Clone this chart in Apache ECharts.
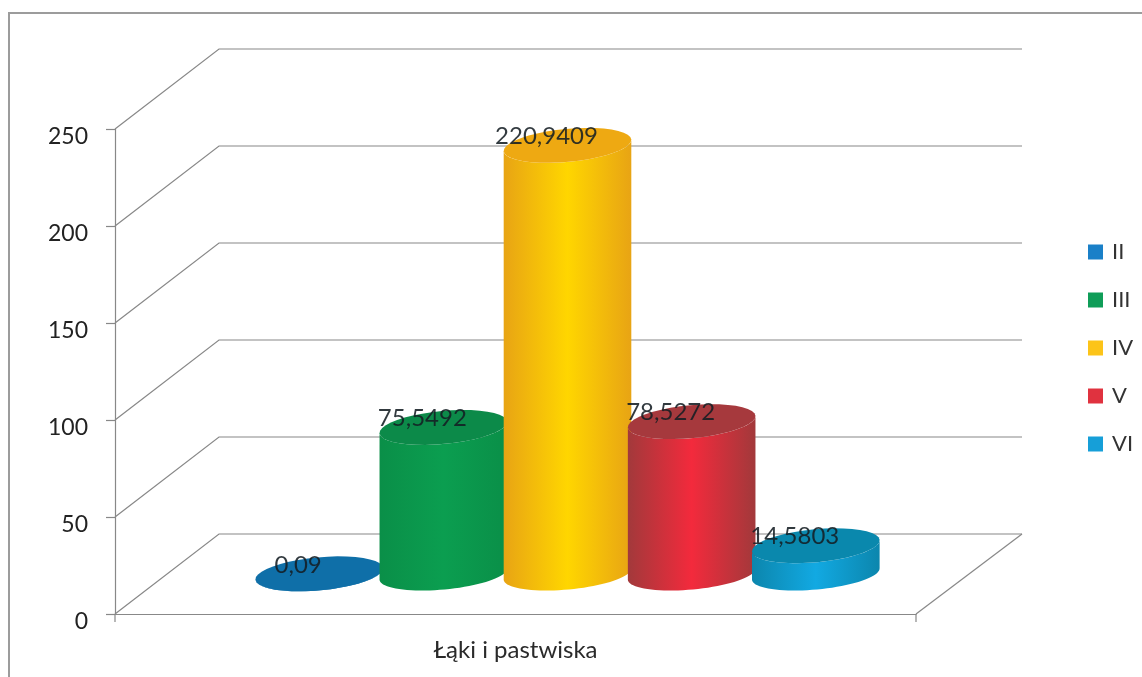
<!DOCTYPE html>
<html lang="pl">
<head>
<meta charset="utf-8">
<script src="https://cdn.jsdelivr.net/npm/echarts@6/dist/echarts.min.js"></script>
<style>
  html, body { margin: 0; padding: 0; background: #fff; }
  #chart { width: 1142px; height: 677px; }
</style>
</head>
<body>
<div id="chart"></div>
<script>
const categories = ['Łąki i pastwiska']
const seriesNames = ['II', 'III', 'IV', 'V', 'VI']
const seriesValues = [0.09, 75.5492, 220.9409, 78.5272, 14.5803]
const gridValues = [0, 50, 100, 150, 200, 250]

const legendColors = ['#1a80c8', '#0f9d58', '#fcc419', '#e0323f', '#169fd8']
const capColors = ['#0f6fa8', '#0c8a49', '#eea912', '#a6393d', '#0a88ad']
const sideEdge = ['#0f6fa8', '#0a8f48', '#e8a414', '#a2393b', '#0c86ad']
const sideMid = ['#0f6fa8', '#0b9e50', '#ffd600', '#f32a3c', '#12a9e2']

const font = 'Lato, "Noto Sans", sans-serif'
const lineColor = '#888'
const depthX = 104
const depthY = 80
const tilt = -5.3 * Math.PI / 180

function arc(cx, cy, rx, ry, from, to) {
  const pts = []
  for (let i = 0; i <= 40; i++) {
    const t = from + (to - from) * i / 40
    pts.push([
      cx + rx * Math.cos(t) * Math.cos(tilt) - ry * Math.sin(t) * Math.sin(tilt),
      cy + rx * Math.cos(t) * Math.sin(tilt) + ry * Math.sin(t) * Math.cos(tilt)
    ])
  }
  return pts
}

function cylinder(index) {
  return function (params, api) {
    const band = api.size([1, 0])[0]
    const rx = band * 0.08
    const ry = 15.5
    const base = api.coord([api.value(0), 0])
    const top = api.coord([api.value(0), api.value(1)])
    const cx = base[0] + depthX / 2 + (index - 2) * band * 0.155
    const by = base[1] - depthY / 2
    const ty = top[1] - depthY / 2
    const side = arc(cx, by, rx, ry, 0, Math.PI).concat(arc(cx, ty, rx, ry + 1, Math.PI, 0))
    const children = [{
      type: 'polygon',
      z2: index * 2,
      shape: { points: side },
      style: {
        fill: new echarts.graphic.LinearGradient(0, 0, 1, 0, [
          { offset: 0, color: sideEdge[index] },
          { offset: 0.5, color: sideMid[index] },
          { offset: 1, color: sideEdge[index] }
        ])
      }
    }, {
      type: 'polygon',
      z2: index * 2 + 1,
      shape: { points: arc(cx, ty, rx, ry + 1, 0, Math.PI * 2) },
      style: { fill: capColors[index] }
    }, {
      type: 'text',
      z2: 100,
      style: {
        text: String(api.value(1)).replace('.', ','),
        x: cx - 21,
        y: ty - 9,
        fill: 'rgba(20,30,35,0.88)',
        font: '24px ' + font,
        textAlign: 'center',
        textVerticalAlign: 'middle'
      }
    }]
    return { type: 'group', children: children }
  }
}

function wallLine(params, api) {
  const front = api.coord([0, api.value(0)])
  const size = api.size([1, 0])[0]
  const x0 = front[0] - size / 2
  const y0 = front[1]
  const stroke = { stroke: lineColor, lineWidth: 1.2, fill: null }
  const children = [{
    type: 'polyline',
    shape: { points: [[x0, y0], [x0 + depthX, y0 - depthY], [x0 + size + depthX + 2, y0 - depthY]] },
    style: stroke
  }]
  if (api.value(0) === 0) {
    children.push({
      type: 'line',
      shape: { x1: x0 + size, y1: y0, x2: x0 + size + depthX + 2, y2: y0 - depthY },
      style: stroke
    }, {
      type: 'line',
      shape: { x1: x0, y1: y0, x2: x0, y2: y0 + 8 },
      style: stroke
    }, {
      type: 'line',
      shape: { x1: x0 + size, y1: y0, x2: x0 + size, y2: y0 + 8 },
      style: stroke
    })
  }
  return { type: 'group', children: children }
}

const series = [{
  type: 'custom',
  name: 'wall',
  silent: true,
  renderItem: wallLine,
  data: gridValues.map(v => [v]),
  encode: { y: 0 },
  z: 1
}]
seriesNames.forEach((name, i) => {
  series.push({
    type: 'custom',
    name: name,
    renderItem: cylinder(i),
    itemStyle: { color: legendColors[i] },
    data: [[0, seriesValues[i]]],
    encode: { x: 0, y: 1 },
    z: 2
  })
})

const chart = echarts.init(document.querySelector('#chart'), null, { renderer: 'canvas' })
chart.setOption({
  animation: false,
  backgroundColor: '#fff',
  tooltip: { show: false },
  grid: { left: 115, right: 226, top: 129, bottom: 63 },
  xAxis: {
    type: 'category',
    data: categories,
    axisLine: { lineStyle: { color: lineColor, width: 1.2 } },
    axisTick: { show: false },
    axisLabel: { fontFamily: font, fontSize: 24, color: '#2a2a2a', margin: 24 }
  },
  yAxis: {
    type: 'value',
    min: 0,
    max: 250,
    interval: 50,
    splitLine: { show: false },
    axisLine: { show: true, lineStyle: { color: lineColor, width: 1.2 } },
    axisTick: { show: true, length: 9, lineStyle: { color: lineColor, width: 1.2 } },
    axisLabel: {
      margin: 27,
      formatter: '{t|{value}}',
      rich: { t: { fontFamily: font, fontSize: 23, color: '#222', padding: [16, 0, 0, 0] } }
    }
  },
  legend: {
    data: seriesNames,
    orient: 'vertical',
    left: 1083,
    top: 236,
    icon: 'rect',
    itemWidth: 15,
    itemHeight: 15,
    itemGap: 26,
    textStyle: { fontFamily: font, fontSize: 22, color: '#333', padding: [0, 0, 0, 4] }
  },
  graphic: [{
    type: 'polyline',
    silent: true,
    shape: { points: [[9, 677], [9, 13], [1142, 13]] },
    style: { stroke: '#9c9c9c', lineWidth: 2, fill: null }
  }],
  series: series
})
</script>
</body>
</html>
